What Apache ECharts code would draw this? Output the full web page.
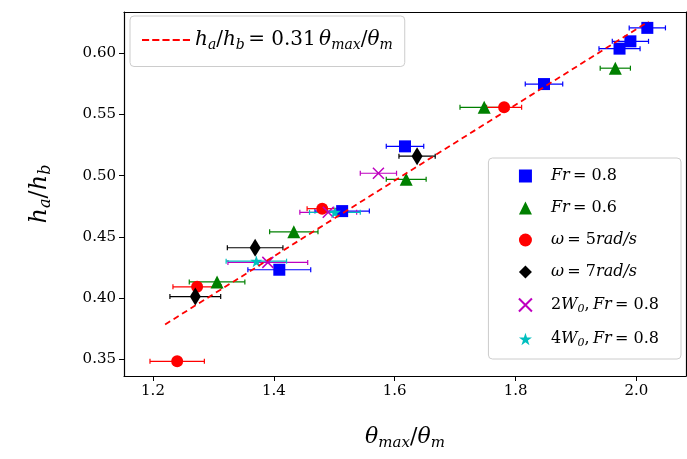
<!DOCTYPE html>
<html><head><meta charset="utf-8">
<script src="https://cdn.jsdelivr.net/npm/echarts@6/dist/echarts.min.js"></script>
<style>html,body{margin:0;padding:0;background:#fff}#main{width:687px;height:459px}</style>
</head><body><div id="main"></div>
<script>
// [x, y, xerr]
var fr08 = [[2.018,0.621,0.03],[1.99,0.610,0.03],[1.972,0.604,0.034],[1.847,0.575,0.031],[1.617,0.524,0.031],[1.513,0.471,0.045],[1.409,0.423,0.052]];
var fr06 = [[1.965,0.588,0.025],[1.748,0.556,0.04],[1.619,0.497,0.033],[1.433,0.454,0.04],[1.306,0.413,0.046]];
var w5 = [[1.781,0.556,0.029],[1.48,0.473,0.025],[1.273,0.409,0.04],[1.24,0.348,0.045]];
var w7 = [[1.637,0.516,0.03],[1.369,0.441,0.046],[1.270,0.401,0.042]];
var w2 = [[1.573,0.502,0.03],[1.39,0.429,0.066],[1.49,0.470,0.047]];
var w4 = [[1.501,0.470,0.042],[1.371,0.430,0.05]];
var fitX = [1.22, 2.02];
var slope = 0.31;
var xTicks = [1.2, 1.4, 1.6, 1.8, 2.0];
var yTicks = [0.35, 0.4, 0.45, 0.5, 0.55, 0.6];

var myChart = echarts.init(document.getElementById('main'));
var serif = 'DejaVu Serif';
var xPath = 'path://M0,0L10,10M10,0L0,10';
var starPath = 'path://M5,0L6.2,3.6L10,3.6L6.9,5.9L8.1,9.5L5,7.3L1.9,9.5L3.1,5.9L0,3.6L3.8,3.6Z';
var dashIcon = 'path://M0,0h7v2h-7zM10,0h7v2h-7zM20,0h7v2h-7zM30,0h7v2h-7zM40,0h7v2h-7z';

function errBars(name, data, color) {
    return {
        name: name + '_err', type: 'custom', silent: true, z: 2,
        data: data,
        renderItem: function (params, api) {
            var x = api.value(0), y = api.value(1), e = api.value(2);
            var a = api.coord([x - e, y]), b = api.coord([x + e, y]);
            var st = {stroke: color, lineWidth: 1.2};
            return {type: 'group', children: [
                {type: 'line', shape: {x1: a[0], y1: a[1], x2: b[0], y2: b[1]}, style: st},
                {type: 'line', shape: {x1: a[0], y1: a[1] - 2.5, x2: a[0], y2: a[1] + 2.5}, style: st},
                {type: 'line', shape: {x1: b[0], y1: b[1] - 2.5, x2: b[0], y2: b[1] + 2.5}, style: st}
            ]};
        }
    };
}
function pts(name, data, color, symbol, size, hollow) {
    return {
        name: name, type: 'scatter', z: 3, symbol: symbol, symbolSize: size,
        data: data.map(function (d) { return [d[0], d[1]]; }),
        itemStyle: hollow ? {color: 'none', borderColor: color, borderWidth: 1.5, opacity: 1}
                          : {color: color, opacity: 1}
    };
}

var groups = [
    ['fr08', fr08, '#0000ff', 'rect', 12],
    ['fr06', fr06, '#008000', 'triangle', 13],
    ['w5', w5, '#ff0000', 'circle', 12],
    ['w7', w7, '#000000', 'diamond', [11, 18]],
    ['w2', w2, '#bf00bf', xPath, 11, true],
    ['w4', w4, '#00bfbf', starPath, 12]
];
var series = [{
    name: 'fit', type: 'line', symbol: 'none', z: 4,
    data: fitX.map(function (x) { return [x, slope * x]; }),
    itemStyle: {color: '#ff0000'},
    lineStyle: {color: '#ff0000', type: [6, 4], width: 1.8}
}];
groups.forEach(function (g) {
    series.push(errBars(g[0], g[1], g[2]));
    series.push(pts(g[0], g[1], g[2], g[3], g[4], g[5]));
});

function richSet(big, small) {
    return {
        i: {fontFamily: serif, fontStyle: 'italic', fontSize: big},
        s: {fontFamily: serif, fontStyle: 'italic', fontSize: small, padding: [Math.round(big * 0.55), 0, 0, 0]},
        n: {fontFamily: serif, fontSize: big}
    };
}
var labels = {
    fr08: '{i|Fr} {n|= 0.8}',
    fr06: '{i|Fr} {n|= 0.6}',
    w5: '{i|ω} {n|= 5}{i|rad/s}',
    w7: '{i|ω} {n|= 7}{i|rad/s}',
    w2: '{n|2}{i|W}{s|0}{n|,} {i|Fr} {n|= 0.8}',
    w4: '{n|4}{i|W}{s|0}{n|,} {i|Fr} {n|= 0.8}',
    fit: '{i|h}{s|a}{n|/}{i|h}{s|b} {n|= 0.31} {i|θ}{s|max}{n|/}{i|θ}{s|m}'
};
var fmt = function (n) { return labels[n]; };

myChart.setOption({
    animation: false,
    grid: {left: 124, right: 1, top: 12, bottom: 83},
    legend: [
        {data: [{name: 'fit', icon: dashIcon, itemStyle: {color: '#ff0000'}}], left: 130, top: 16, itemWidth: 48, itemHeight: 3,
            formatter: fmt, textStyle: {rich: richSet(20, 14), color: '#000'},
            borderColor: '#ccc', borderWidth: 1, borderRadius: 4, padding: [14, 12, 14, 12],
            backgroundColor: 'rgba(255,255,255,0.8)'},
        {data: ['fr08', 'fr06', 'w5', 'w7', 'w2', 'w4'], right: 6, top: 158, orient: 'vertical',
            formatter: fmt, textStyle: {rich: richSet(16, 11), color: '#000', padding: [0, 0, 0, 14]},
            itemGap: 16, itemWidth: 13, itemHeight: 13, borderColor: '#ccc', borderWidth: 1, borderRadius: 4,
            padding: [10, 22, 10, 28], backgroundColor: 'rgba(255,255,255,0.8)'}
    ],
    xAxis: [{
        type: 'value', min: 1.152, max: 2.082,
        name: '{i|θ}{s|max}{n|/}{i|θ}{s|m}', nameLocation: 'middle', nameGap: 48,
        nameTextStyle: {rich: richSet(22, 15)},
        axisLine: {onZero: false, lineStyle: {color: '#000', width: 1.2}},
        axisTick: {length: 5, lineStyle: {color: '#000'}, customValues: xTicks},
        axisLabel: {fontFamily: serif, fontSize: 15, color: '#000', customValues: xTicks, formatter: function (v) { return v.toFixed(1); }},
        splitLine: {show: false}
    }, {
        type: 'value', position: 'top', min: 1.152, max: 2.082,
        axisLine: {show: true, lineStyle: {color: '#000', width: 1.2}},
        axisTick: {show: false}, axisLabel: {show: false}, splitLine: {show: false}
    }],
    yAxis: [{
        type: 'value', min: 0.336, max: 0.634,
        name: '{i|h}{s|a}{n|/}{i|h}{s|b}', nameLocation: 'middle', nameGap: 70, nameRotate: 90,
        nameTextStyle: {rich: richSet(24, 16)},
        axisLine: {show: true, onZero: false, lineStyle: {color: '#000', width: 1.2}},
        axisTick: {show: true, length: 5, lineStyle: {color: '#000'}, customValues: yTicks},
        axisLabel: {fontFamily: serif, fontSize: 15, color: '#000', customValues: yTicks, formatter: function (v) { return v.toFixed(2); }},
        splitLine: {show: false}
    }, {
        type: 'value', position: 'right', min: 0.336, max: 0.634,
        axisLine: {show: true, lineStyle: {color: '#000', width: 1.2}},
        axisTick: {show: false}, axisLabel: {show: false}, splitLine: {show: false}
    }],
    series: series
});
</script></body></html>
